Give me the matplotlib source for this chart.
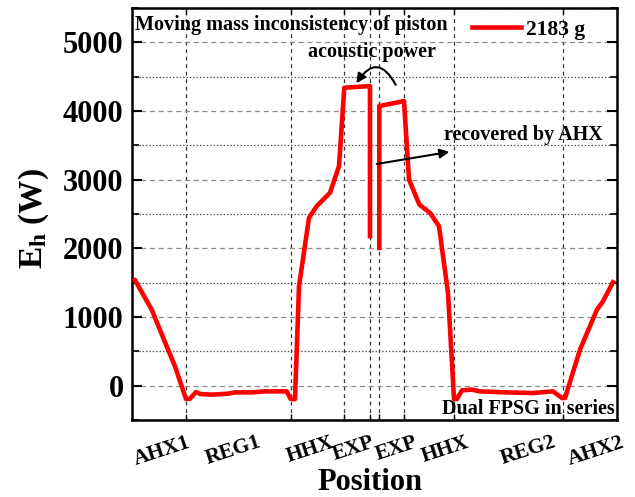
import numpy as np
import matplotlib
matplotlib.use("Agg")
import matplotlib.pyplot as plt
from matplotlib.ticker import FixedLocator, FixedFormatter, MultipleLocator

plt.rcParams['font.family'] = ['Liberation Serif', 'DejaVu Serif']
plt.rcParams['font.weight'] = 'bold'
plt.rcParams['mathtext.fontset'] = 'custom'
plt.rcParams['mathtext.rm'] = 'Liberation Serif:bold'
plt.rcParams['mathtext.bf'] = 'Liberation Serif:bold'
plt.rcParams['mathtext.it'] = 'Liberation Serif:bold'

# Position along the dual FPSG loop (arbitrary length units) and hot-end enthalpy flow (W)
position = [3, 19.7, 34.7, 43, 54, 58, 64, 68, 79.7, 96, 103, 119.7, 133, 154.7, 158.7, 163,
            167, 177, 184.7, 198, 207, 212.3, 238, 238,
            np.nan,
            247.3, 247.3, 272, 277, 287.3, 298, 307, 316, 322, 325, 330, 340, 348, 375, 401,
            421, 430, 433, 448, 465, 471, 481]
power = [1535, 1108, 573, 281, -194, -190, -92, -121, -131, -117, -98, -98, -83, -83, -194, -194,
         1448, 2444, 2614, 2809, 3197, 4339, 4363, 2177,
         np.nan,
         2007, 4072, 4144, 3003, 2638, 2517, 2322, 1351, -194, -194, -68, -58, -83, -98, -107,
         -83, -180, -180, 525, 1108, 1229, 1506]

boundaries = [54, 159, 212, 238, 247, 272, 322, 431]
component_labels = ['AHX1', 'REG1', 'HHX', 'EXP', 'EXP', 'HHX', 'REG2', 'AHX2']
label_positions = [30, 101, 178, 222, 265, 313, 396, 464]
series_label = '2183 g'

fig = plt.figure(figsize=(6.35, 4.97), dpi=100)
ax = fig.add_axes([132/635, 1-420/497, 485/635, 412/497])

ax.plot(position, power, color='#ff0000', lw=3.3, label=series_label, zorder=3)

ax.set_xlim(0, 485)
ax.set_ylim(-500, 5500)

ax.yaxis.set_major_locator(MultipleLocator(1000))
ax.yaxis.set_minor_locator(MultipleLocator(500))
ax.xaxis.set_major_locator(FixedLocator(boundaries))
ax.xaxis.set_major_formatter(FixedFormatter([''] * len(boundaries)))
ax.xaxis.set_minor_locator(FixedLocator(label_positions))
ax.xaxis.set_minor_formatter(FixedFormatter(component_labels))

ax.tick_params(axis='y', which='both', direction='in', right=True, labelsize=22, pad=6)
ax.tick_params(axis='y', which='major', length=7, width=1.5)
ax.tick_params(axis='y', which='minor', length=5, width=1.2)
ax.tick_params(axis='x', which='major', direction='in', top=True, length=4, width=1)
ax.tick_params(axis='x', which='minor', length=0, labelsize=15.5, pad=9)
for lab in ax.xaxis.get_minorticklabels():
    lab.set_rotation(18)
    lab.set_fontweight('bold')

ax.grid(axis='y', which='major', linestyle=(0, (4, 3)), color='#8a8a8a', lw=0.9)
ax.grid(axis='y', which='minor', linestyle=(0, (1.2, 1.5)), color='#555555', lw=0.9)
ax.grid(axis='x', which='major', linestyle=(0, (3, 3)), color='#333333', lw=0.9)

for s in ax.spines.values():
    s.set_linewidth(1.8)

ax.set_xlabel('Position', fontsize=22, fontweight='bold')
ax.xaxis.set_label_coords(0.49, -0.117)
ax.set_ylabel(r'E$_{\mathrm{h}}$ (W)', fontsize=24, fontweight='bold')
ax.yaxis.set_label_coords(-0.168, 0.49)

ax.text(0.006, 0.958, 'Moving mass inconsistency of piston', transform=ax.transAxes,
        fontsize=14.5, fontweight='bold', ha='left', va='center')
ax.text(240, 4860, 'acoustic power', fontsize=14.5, fontweight='bold', ha='center', va='center')
ax.text(391, 3650, 'recovered by AHX', fontsize=14.5, fontweight='bold', ha='center', va='center')
ax.text(483, -345, 'Dual FPSG in series', fontsize=14.5, fontweight='bold', ha='right', va='center')

ax.annotate('', xy=(223, 4370), xytext=(265, 4344),
            arrowprops=dict(arrowstyle='-|>', color='black', lw=1.5,
                            connectionstyle='arc3,rad=0.9', mutation_scale=14))
ax.annotate('', xy=(320, 3411), xytext=(242, 3222),
            arrowprops=dict(arrowstyle='-|>', color='black', lw=1.5, mutation_scale=14))

ax.legend(loc='center left', bbox_to_anchor=(0.70, 0.947), frameon=False, fontsize=15.5,
          handlelength=2.3, handletextpad=0.25, borderpad=0, borderaxespad=0)

fig.savefig('out.png', dpi=100)
